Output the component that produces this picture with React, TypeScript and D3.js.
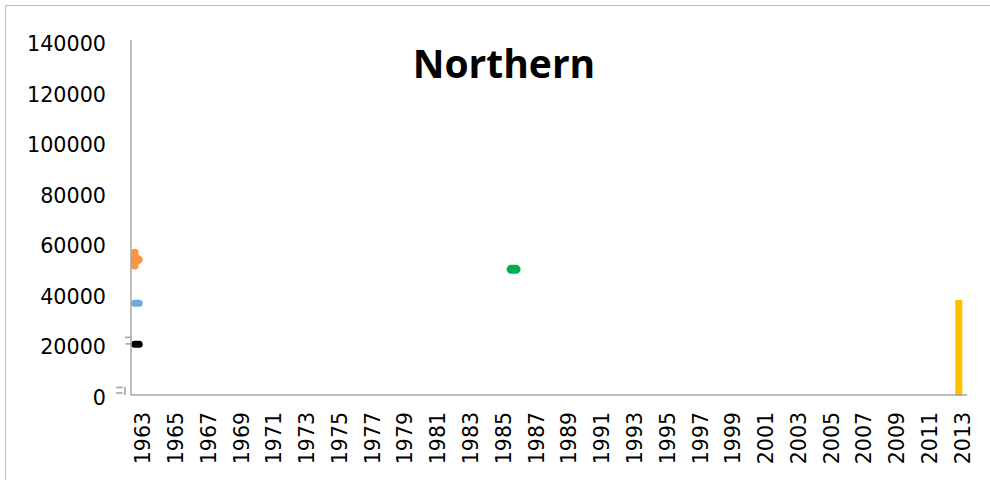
import React from "react";
import * as d3 from "d3";

// categories on the x axis
const years = d3.range(1963, 2014).map(String);
const labelYears = years.filter((_, i) => i % 2 === 0);
const yTicks = [0, 20000, 40000, 60000, 80000, 100000, 120000, 140000];

// yellow column
const barYears = ["2013"];
const barValues = [38000];

// short series traces: [year, value]
const orangeTrace: [number, number][] = [
  [1962.73, 56800],
  [1962.73, 51500],
];
const orangeTip: [number, number][] = [
  [1962.75, 54600],
  [1962.97, 53900],
];
const blueTrace: [number, number][] = [
  [1962.72, 36700],
  [1963.0, 36700],
];
const blackTrace: [number, number][] = [
  [1962.72, 20500],
  [1963.0, 20500],
];
const greenTrace: [number, number][] = [
  [1985.69, 50100],
  [1985.99, 50100],
];

// little grey marks left of the axis: [yearFrom, yearTo, valueFrom, valueTo]
const greyMarks: [number, number, number, number][] = [
  [1962.13, 1962.5, 23200, 23200],
  [1962.17, 1962.5, 20600, 20600],
  [1961.58, 1962.0, 3360, 3360],
  [1961.58, 1962.0, 1190, 1190],
  [1962.13, 1962.13, 3680, 400],
];

const W = 990;
const H = 480;
const left = 131;
const right = 967;
const top = 42;
const bottom = 396;
const font = "'DejaVu Sans', sans-serif";

export default function App() {
  const xBand = d3.scaleBand().domain(years).range([left, right]);
  const xLin = d3
    .scaleLinear()
    .domain([1962.5, 2013.5])
    .range([left, right]);
  const y = d3.scaleLinear().domain([0, 140000]).range([bottom, top]);
  const line = d3
    .line<[number, number]>()
    .x((d) => xLin(d[0]))
    .y((d) => y(d[1]));

  const traces = [
    { pts: orangeTrace, color: "#F79646", w: 7.5 },
    { pts: orangeTip, color: "#F79646", w: 8 },
    { pts: blueTrace, color: "#6FA8DC", w: 7 },
    { pts: blackTrace, color: "#000000", w: 7 },
    { pts: greenTrace, color: "#00B050", w: 9 },
  ];
  const barW = 7;

  return (
    <svg
      width={W}
      height={H}
      style={{ position: "absolute", left: 0, top: 0, background: "#fff" }}
    >
      <rect
        x={5.5}
        y={5.5}
        width={W}
        height={H}
        fill="#fff"
        stroke="#bfbfbf"
        strokeWidth={1}
      />
      <text
        x={504}
        y={78}
        textAnchor="middle"
        fontFamily="'Open Sans', sans-serif"
        fontWeight="bold"
        fontSize={39}
        fill="#000"
      >
        Northern
      </text>

      {barYears.map((yr, i) => (
        <rect
          key={yr}
          x={(xBand(yr) as number) + xBand.bandwidth() / 2 - barW / 2}
          y={y(barValues[i])}
          width={barW}
          height={y(0) - y(barValues[i])}
          fill="#FFC000"
        />
      ))}

      {traces.map((t, i) => (
        <path
          key={i}
          d={line(t.pts) || ""}
          fill="none"
          stroke={t.color}
          strokeWidth={t.w}
          strokeLinecap="round"
        />
      ))}

      {greyMarks.map((m, i) => (
        <line
          key={i}
          x1={xLin(m[0])}
          x2={xLin(m[1])}
          y1={y(m[2])}
          y2={y(m[3])}
          stroke="#a6a6a6"
          strokeWidth={1.6}
        />
      ))}

      {/* axes */}
      <line x1={left} x2={left} y1={40} y2={y(0) - 1} stroke="#a6a6a6" strokeWidth={1.5} />
      <line x1={left} x2={right} y1={y(0) - 1} y2={y(0) - 1} stroke="#a6a6a6" strokeWidth={1.5} />

      {yTicks.map((t) => (
        <text
          key={t}
          x={106}
          y={y(t) + 2}
          textAnchor="end"
          dominantBaseline="central"
          fontFamily={font}
          fontSize={20.7}
          fill="#000"
        >
          {t}
        </text>
      ))}

      {labelYears.map((yr) => (
        <text
          key={yr}
          transform={`translate(${(xBand(yr) as number) + xBand.bandwidth() / 2 + 4}, 412) rotate(-90)`}
          textAnchor="end"
          dominantBaseline="central"
          fontFamily={font}
          fontSize={20.5}
          fill="#000"
        >
          {yr}
        </text>
      ))}
    </svg>
  );
}
